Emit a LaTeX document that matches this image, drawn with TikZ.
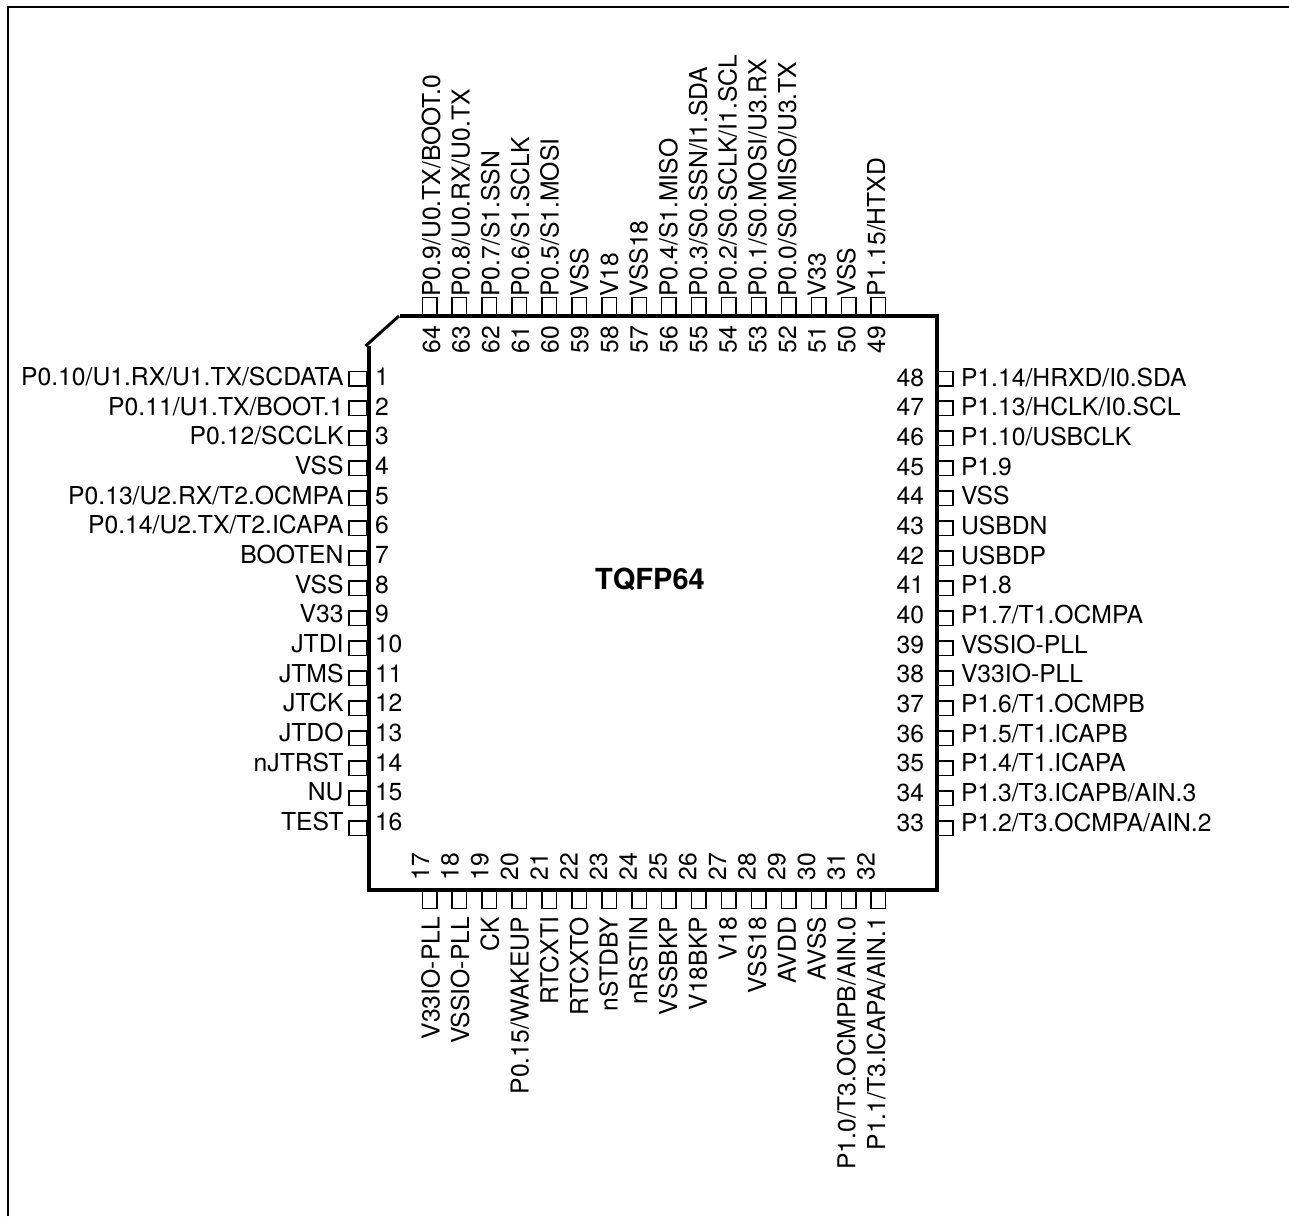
\documentclass[tikz,border=0pt]{standalone}
\usepackage{fontspec}
\setmainfont{TeX Gyre Heros}
\tikzset{
  pinh/.style={draw,line width=1.5pt,fill=white,minimum width=18pt,minimum height=14.5pt,inner sep=0pt,outer sep=0pt},
  pinr/.style={draw,line width=1.5pt,fill=white,minimum width=15.5pt,minimum height=14.5pt,inner sep=0pt,outer sep=0pt},
  pinv/.style={draw,line width=1.5pt,fill=white,minimum width=14.5pt,minimum height=18pt,inner sep=0pt,outer sep=0pt},
  lbl/.style={inner sep=0pt,outer sep=0pt,font=\fontsize{24.7}{24.7}\selectfont}
}
\begin{document}
\begin{tikzpicture}[x=1pt,y=-1pt]
\useasboundingbox (0,0) rectangle (1289,1216);
\coordinate (f1) at (8.3,1216);
\coordinate (f2) at (8.3,7);
\coordinate (f3) at (1289,7);
\draw[line width=2pt] (f1) -- (f2) -- (f3);
% left
\foreach \n/\t [count=\i from 0] in {1/P0.10\slash U1.RX\slash U1.TX\slash SCDATA,2/P0.11\slash U1.TX\slash BOOT.1,3/P0.12\slash SCCLK,4/VSS,5/P0.13\slash U2.RX\slash T2.OCMPA,6/P0.14\slash U2.TX\slash T2.ICAPA,7/BOOTEN,8/VSS,9/V33,10/JTDI,11/JTMS,12/JTCK,13/JTDO,14/nJTRST,15/NU,16/TEST}{
  \pgfmathsetmacro\yy{377+29.67*\i}
  \pgfmathsetmacro\by{378.5+29.97*\i}
  \node[pinh] (lb\n) at (358,\by) {};
  \node[lbl,anchor=base east] (lt\n) at (343.5,\yy+8.5) {\t};
  \node[lbl,anchor=base west] (ln\n) at (375,\yy+8.5) {\n};
}
% right
\foreach \n/\t [count=\i from 0] in {48/P1.14\slash HRXD\slash I0.SDA,47/P1.13\slash HCLK\slash I0.SCL,46/P1.10\slash USBCLK,45/P1.9,44/VSS,43/USBDN,42/USBDP,41/P1.8,40/P1.7\slash T1.OCMPA,39/VSSIO-PLL,38/V33IO-PLL,37/P1.6\slash T1.OCMPB,36/P1.5\slash T1.ICAPB,35/P1.4\slash T1.ICAPA,34/P1.3\slash T3.ICAPB\slash AIN.3,33/P1.2\slash T3.OCMPA\slash AIN.2}{
  \pgfmathsetmacro\yy{377.5+29.67*\i}
  \pgfmathsetmacro\by{378.5+29.97*\i}
  \node[pinr] (rb\n) at (945,\by) {};
  \node[lbl,anchor=base west] (rt\n) at (961,\yy+8.5) {\t};
  \node[lbl,anchor=base east] (rn\n) at (924,\yy+8.5) {\n};
}
% top
\foreach \n/\t [count=\i from 0] in {64/P0.9\slash U0.TX\slash BOOT.0,63/P0.8\slash U0.RX\slash U0.TX,62/P0.7\slash S1.SSN,61/P0.6\slash S1.SCLK,60/P0.5\slash S1.MOSI,59/VSS,58/V18,57/VSS18,56/P0.4\slash S1.MISO,55/P0.3\slash S0.SSN\slash I1.SDA,54/P0.2\slash S0.SCLK\slash I1.SCL,53/P0.1\slash S0.MOSI\slash U3.RX,52/P0.0\slash S0.MISO\slash U3.TX,51/V33,50/VSS,49/P1.15\slash HTXD}{
  \pgfmathsetmacro\xx{431.5+29.67*\i}
  \pgfmathsetmacro\bx{429.5+29.93*\i}
  \node[pinv] (tb\n) at (\bx,306.5) {};
  \node[lbl,anchor=base west,rotate=90] (tt\n) at (\xx+8.5,296.5) {\t};
  \node[lbl,anchor=base east,rotate=90] (tn\n) at (\xx+8.5,326) {\n};
}
% bottom
\foreach \n/\t [count=\i from 0] in {17/V33IO-PLL,18/VSSIO-PLL,19/CK,20/P0.15\slash WAKEUP,21/RTCXTI,22/RTCXTO,23/nSTDBY,24/nRSTIN,25/VSSBKP,26/V18BKP,27/V18,28/VSS18,29/AVDD,30/AVSS,31/P1.0\slash T3.OCMPB\slash AIN.0,32/P1.1\slash T3.ICAPA\slash AIN.1}{
  \pgfmathsetmacro\xx{431+29.7*\i}
  \pgfmathsetmacro\nx{420.5+29.7*\i}
  \pgfmathsetmacro\bx{429.5+29.93*\i}
  \node[pinv] (bb\n) at (\bx,899.5) {};
  \node[lbl,anchor=base east,rotate=90] (bt\n) at (\xx+8.5,917) {\t};
  \node[lbl,anchor=base west,rotate=90] (bn\n) at (\nx+8.5,880) {\n};
}
\coordinate (c1) at (369,346);
\coordinate (c2) at (369,890);
\coordinate (c3) at (937,890);
\coordinate (c4) at (937,315.5);
\coordinate (c5) at (400,315.5);
\coordinate (c6) at (399,316);
\coordinate (c7) at (365.5,346);
\draw[line width=4pt,line join=miter] (c1) -- (c2) -- (c3) -- (c4) -- (c5);
\draw[line width=3pt] (c6) -- (c7);
\node[lbl,font=\fontsize{29}{29}\selectfont] (title) at (650,579) {\textbf{TQFP64}};
\end{tikzpicture}
\end{document}
